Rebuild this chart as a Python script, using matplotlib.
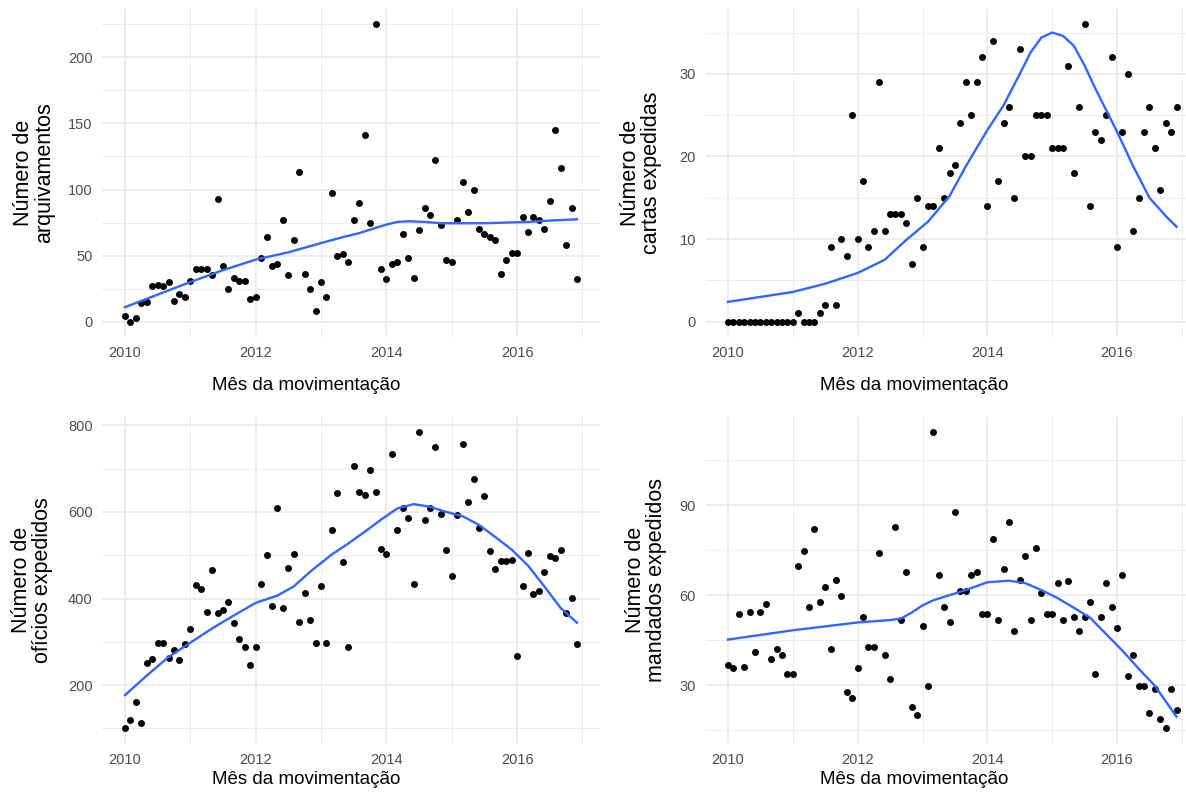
import numpy as np
import matplotlib.pyplot as plt
from matplotlib.ticker import MultipleLocator, FormatStrFormatter

plt.rcParams['font.family'] = ['Liberation Sans', 'DejaVu Sans']

# meses de jan/2010 a dez/2016
meses = 2010 + np.arange(84) / 12

arquivamentos = [4, 0, 3, 14, 15, 27, 28, 27, 30, 16, 21, 19,
                 31, 40, 40, 40, 35, 93, 42, 25, 33, 31, 31, 17,
                 19, 48, 64, 42, 44, 77, 35, 62, 113, 36, 25, 8,
                 30, 19, 97, 50, 51, 45, 77, 90, 141, 75, 225, 40,
                 32, 44, 45, 66, 48, 33, 69, 86, 81, 122, 73, 47,
                 45, 77, 106, 83, 100, 70, 66, 64, 62, 36, 47, 52,
                 52, 79, 68, 79, 77, 70, 91, 145, 116, 58, 86, 32]

cartas = [0, 0, 0, 0, 0, 0, 0, 0, 0, 0, 0, 0,
          0, 1, 0, 0, 0, 1, 2, 9, 2, 10, 8, 25,
          10, 17, 9, 11, 29, 11, 13, 13, 13, 12, 7, 15,
          9, 14, 14, 21, 15, 18, 19, 24, 29, 25, 29, 32,
          14, 34, 17, 24, 26, 15, 33, 20, 20, 25, 25, 25,
          21, 21, 21, 31, 18, 26, 36, 14, 23, 22, 25, 32,
          9, 23, 30, 11, 15, 23, 26, 21, 16, 24, 23, 26]

oficios = [100, 120, 160, 113, 252, 260, 298, 298, 263, 282, 257, 296,
           329, 432, 421, 369, 467, 367, 373, 392, 344, 307, 288, 246,
           288, 434, 500, 382, 610, 379, 471, 502, 346, 413, 351, 298,
           430, 298, 559, 644, 484, 288, 705, 646, 640, 696, 646, 514,
           502, 733, 559, 610, 587, 434, 785, 581, 610, 750, 596, 513,
           451, 594, 756, 624, 675, 564, 636, 510, 469, 487, 487, 490,
           267, 428, 506, 411, 417, 461, 498, 494, 513, 367, 402, 296]

mandados = [36.7, 35.6, 53.7, 35.9, 54.4, 40.9, 54.4, 57, 38.7, 41.9, 40, 33.9,
            33.9, 69.7, 74.8, 55.9, 81.9, 57.8, 62.6, 41.9, 65, 59.7, 27.8, 25.9,
            35.8, 52.6, 42.8, 42.8, 73.9, 40, 32, 82.6, 51.7, 67.8, 22.8, 20,
            49.8, 29.8, 114.4, 66.8, 56, 51, 87.8, 61.3, 61.3, 66.7, 67.8, 53.7,
            53.7, 78.7, 51.7, 68.6, 84.4, 48, 65, 73, 51.7, 75.6, 60.8, 53.7,
            53.7, 64.1, 51.7, 64.8, 52.8, 48, 52.8, 57.8, 33.9, 52.8, 64.1, 55.9,
            48.9, 66.7, 33.1, 40, 29.8, 29.8, 20.8, 28.7, 18.9, 15.6, 28.9, 21.9]

# curvas suavizadas, indice do mes -> valor
suave_arq_m = [0, 6, 12, 18, 24, 30, 36, 40, 43, 46, 48, 50, 52, 55, 58, 62, 66, 70, 74, 78, 83]
suave_arq = [11, 20.5, 30, 39, 47, 52.5, 59.5, 64, 67, 71, 73.5, 75.5, 76, 75.5, 74.5,
             74.5, 74.5, 75, 75.5, 76.5, 77.5]

suave_car_m = [0, 6, 12, 18, 24, 29, 33, 37, 41, 44, 48, 51, 54, 56, 58, 60, 62, 64, 66,
               68, 70, 72, 75, 78, 81, 83]
suave_car = [2.4, 3.0, 3.6, 4.6, 5.9, 7.5, 9.9, 12.1, 15.2, 18.8, 23.2, 26.2, 30, 32.6,
             34.4, 35, 34.6, 33.4, 31, 28.2, 25.6, 23, 18.8, 15, 12.8, 11.5]

suave_ofi_m = [0, 4, 8, 12, 16, 20, 24, 28, 31, 34, 38, 41, 44, 47, 50, 53, 56, 59, 62,
               65, 68, 71, 74, 77, 80, 83]
suave_ofi = [177, 222, 265, 298, 331, 361, 390, 407, 428, 462, 502, 527, 554, 582, 608,
             618, 612, 600, 590, 570, 542, 513, 476, 428, 378, 344]

suave_man_m = [0, 12, 24, 30, 32, 34, 36, 38, 41, 44, 48, 52, 55, 58, 61, 64, 67, 70, 73,
               76, 79, 83]
suave_man = [45.2, 48.3, 50.9, 51.7, 52.2, 54.2, 56.6, 58.3, 60, 61.7, 64.3, 64.8, 64,
             61.7, 59, 55.8, 52.5, 47, 41.5, 35.5, 29.8, 19.5]

paineis = [
    # valores, suave_m, suave, rotulo y, passo maior, passo menor, posicao, x rotulo, y rotulo x, y titulo
    (arquivamentos, suave_arq_m, suave_arq, 'Número de\narquivamentos', 50, 25,
     [0.0863, 0.5793, 0.4193, 0.4089], 0.409, -0.1365, -0.163),
    (cartas, suave_car_m, suave_car, 'Número de\ncartas expedidas', 10, 5,
     [0.5949, 0.5793, 0.4160, 0.4089], 0.422, -0.130, -0.163),
    (oficios, suave_ofi_m, suave_ofi, 'Número de\nofícios expedidos', 200, 100,
     [0.0863, 0.0709, 0.4193, 0.4079], 0.409, -0.1406, -0.126),
    (mandados, suave_man_m, suave_man, 'Número de\nmandados expedidos', 30, 15,
     [0.5949, 0.0709, 0.4160, 0.4079], 0.422, -0.121, -0.126),
]

fig = plt.figure(figsize=(11.86, 8), dpi=100)

for valores, sm, sv, rotulo, maior, menor, pos, xl, yl, xt in paineis:
    ax = fig.add_axes(pos)
    ax.plot(meses, valores, 'o', color='black', markersize=5.0, markeredgewidth=0)
    ax.plot(2010 + np.array(sm) / 12, sv, color='#3366FF', lw=1.7)

    ax.xaxis.set_major_locator(MultipleLocator(2))
    ax.xaxis.set_minor_locator(MultipleLocator(1))
    ax.xaxis.set_major_formatter(FormatStrFormatter('%d'))
    ax.yaxis.set_major_locator(MultipleLocator(maior))
    ax.yaxis.set_minor_locator(MultipleLocator(menor))

    ax.grid(which='major', color='#EBEBEB', lw=1.3)
    ax.grid(which='minor', color='#EBEBEB', lw=0.7)
    ax.set_axisbelow(True)
    for s in ax.spines.values():
        s.set_visible(False)
    ax.tick_params(which='both', length=0, labelsize=10.5, labelcolor='#4D4D4D')
    ax.tick_params(axis='x', pad=7)
    ax.tick_params(axis='y', pad=7)

    ax.set_xlabel('Mês da movimentação', fontsize=13.5, va='baseline')
    ax.xaxis.set_label_coords(xl, xt)
    ax.set_ylabel(rotulo, fontsize=15.5, va='center', ha='center', linespacing=1.0)
    ax.yaxis.set_label_coords(yl, 0.5)

fig.savefig('out.png', dpi=100)
